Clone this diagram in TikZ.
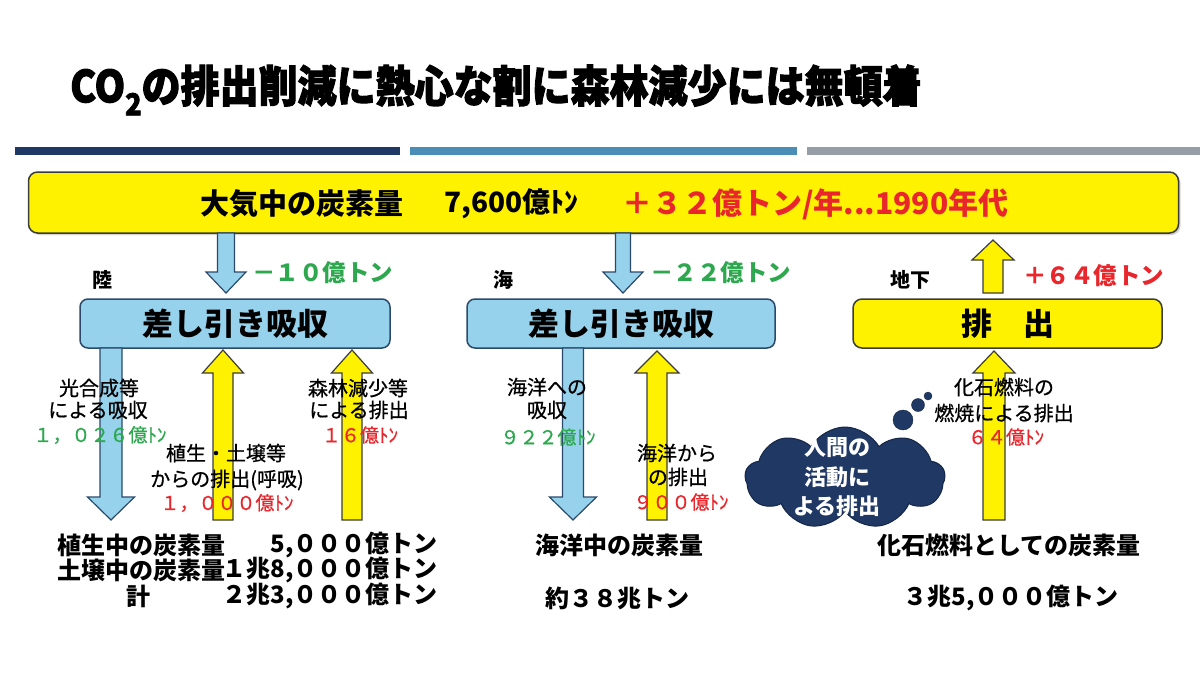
\documentclass[tikz,border=0pt]{standalone}
\usepackage{fontspec}
\setmainfont{Noto Sans CJK JP}
\newfontfamily\heavyfont[FakeBold=2.5]{Noto Sans CJK JP}
\newfontfamily\medfont[FakeBold=0.7]{Noto Sans CJK JP}
\usetikzlibrary{shapes.symbols,shadows}
\definecolor{navy}{HTML}{1F3864}
\definecolor{barblue}{HTML}{4A8DB7}
\definecolor{bargray}{HTML}{969DA6}
\definecolor{boxblue}{HTML}{96D2EB}
\definecolor{edgeblue}{HTML}{2B4A6B}
\definecolor{edgedark}{HTML}{3C3C3C}
\definecolor{ygreen}{HTML}{2EA84E}
\definecolor{yred}{HTML}{E8262B}
\newcommand\fsz[1]{\fontsize{#1}{#1}\selectfont}
% style, cx, tail y, tip y, shaft half width, head half width, signed head length
\newcommand\blockarrow[7]{%
  \draw[#1] ({#2-#5},#3) -- ({#2-#5},{#4-(#7)}) -- ({#2-#6},{#4-(#7)}) -- (#2,#4)
    -- ({#2+#6},{#4-(#7)}) -- ({#2+#5},{#4-(#7)}) -- ({#2+#5},#3) -- cycle;}
\tikzset{
  bluefill/.style={fill=boxblue, draw=edgeblue, line width=1.2pt, line join=miter},
  yelfill/.style={fill=yellow, draw=edgedark, line width=1.2pt, line join=miter},
  bluebox/.style={rectangle, rounded corners=8pt, fill=boxblue, draw=edgeblue, line width=1.5pt, inner sep=0pt},
  yelbox/.style={rectangle, rounded corners=9pt, fill=yellow, draw=edgedark, line width=1.5pt, inner sep=0pt},
  lbl/.style={inner sep=0pt, font=\medfont\fsz{20}},
  num/.style={inner sep=0pt, font=\medfont\fsz{19}},
  bot/.style={inner sep=0pt, font=\bfseries\fsz{24}},
  hdr/.style={inner sep=0pt, font=\bfseries\fsz{20}},
  dlt/.style={inner sep=0pt, anchor=west, font=\bfseries\fsz{23.5}},
}
\begin{document}
\begin{tikzpicture}[x=1pt,y=-1pt]
\useasboundingbox (0,0) rectangle (1200,675);
\fill[white] (0,0) rectangle (1200,675);
% title
\node[anchor=west, inner sep=0pt, font=\heavyfont\bfseries\fsz{39}] (title) at (70,90)
  {\scalebox{1}[1.12]{CO\raisebox{-0.3em}{\fsz{27}2}の排出削減に熱心な割に森林減少には無頓着}};
% bars
\fill[navy] (15,147) rectangle (400,155);
\fill[barblue] (410,147) rectangle (797,155);
\fill[bargray] (807,147) rectangle (1200,155);
% top box
\node[yelbox, drop shadow={shadow xshift=2pt, shadow yshift=-2pt, opacity=0.35}, minimum width=1150pt, minimum height=61pt] (atm) at (603.5,202.5) {};
\node[anchor=west, inner sep=0pt, font=\bfseries\fsz{29}] (atmL) at (200,204) {大気中の炭素量};
\node[anchor=west, inner sep=0pt, font=\bfseries\fsz{28}] (atmV) at (444,204) {7,600億ﾄﾝ};
\node[anchor=west, inner sep=0pt, font=\bfseries\fsz{30}, text=yred] (atmR) at (622,204) {＋３２億トン/年...1990年代};
% second-level boxes
\node[bluebox, minimum width=310pt, minimum height=49pt] (land) at (235,323.5) {};
\node[bluebox, minimum width=308pt, minimum height=49pt] (sea) at (621,323.5) {};
\node[yelbox, minimum width=309pt, minimum height=49pt] (emit) at (1007.5,323.5) {};
\node[inner sep=0pt, font=\bfseries\fsz{31}] (landT) at (land) {差し引き吸収};
\node[inner sep=0pt, font=\bfseries\fsz{31}] (seaT) at (sea) {差し引き吸収};
\node[inner sep=0pt, font=\bfseries\fsz{31}] (emitT) at (emit) {排　出};
% arrows between top box and second-level boxes
\blockarrow{bluefill}{226}{233}{293}{8.5}{20}{21}
\blockarrow{bluefill}{623}{233}{293}{7.5}{20}{21}
\blockarrow{yelfill}{993}{293}{240}{10}{21}{-20}
% labels of the upper arrows
\node[hdr] (riku) at (102,280) {陸};
\node[dlt, text=ygreen] (d1) at (252,273) {－１０億トン};
\node[hdr] (umi) at (503,280) {海};
\node[dlt, text=ygreen] (d2) at (650,273) {－２２億トン};
\node[hdr] (chika) at (910,280) {地下};
\node[dlt, text=yred] (d3) at (1023,276) {＋６４億トン};
% lower arrows
\blockarrow{bluefill}{111}{348}{520}{11}{23.5}{23}
\blockarrow{yelfill}{223}{520}{350}{10}{20.5}{-23}
\blockarrow{yelfill}{352}{520}{350}{10}{20.5}{-23}
\blockarrow{bluefill}{573}{348}{520}{10.5}{23.5}{23}
\blockarrow{yelfill}{657}{520}{351}{10}{22}{-22}
\blockarrow{yelfill}{994}{520}{351}{11}{21}{-22}
% cloud
\node[cloud, cloud puffs=9, cloud puff arc=120, aspect=2, fill=navy, draw=navy!70!black, line width=1pt,
      minimum width=200pt, minimum height=102pt] (cloud) at (845,478) {};
\node[circle, fill=navy, draw=navy!70!black, minimum size=20pt, inner sep=0pt] (b1) at (903,420) {};
\node[circle, fill=navy, draw=navy!70!black, minimum size=13pt, inner sep=0pt] (b2) at (918,405) {};
\node[circle, fill=navy, draw=navy!70!black, minimum size=8pt, inner sep=0pt] (b3) at (928,396) {};
\node[inner sep=0pt, font=\bfseries\fsz{22}, text=white] (c1) at (837,447) {人間の};
\node[inner sep=0pt, font=\bfseries\fsz{22}, text=white] (c2) at (837,477) {活動に};
\node[inner sep=0pt, font=\bfseries\fsz{22}, text=white] (c3) at (837,506) {よる排出};
% arrow labels, land
\node[lbl] (l1) at (99,388) {光合成等};
\node[lbl] (l2) at (98,410) {による吸収};
\node[num, text=ygreen] (l3) at (100,435) {１，０２６億ﾄﾝ};
\node[lbl] (l4) at (226,453) {植生・土壌等};
\node[lbl] (l5) at (227,480) {からの排出(呼吸)};
\node[num, text=yred] (l6) at (227,503) {１，０００億ﾄﾝ};
\node[lbl] (l7) at (358,388) {森林減少等};
\node[lbl] (l8) at (359,410) {による排出};
\node[num, text=yred] (l9) at (360,435) {１６億ﾄﾝ};
% arrow labels, sea
\node[lbl] (s1) at (547,387) {海洋への};
\node[lbl] (s2) at (547,410) {吸収};
\node[num, text=ygreen] (s3) at (548,437) {９２２億ﾄﾝ};
\node[lbl] (s4) at (677,453) {海洋から};
\node[lbl] (s5) at (678,477) {の排出};
\node[num, text=yred] (s6) at (681,502) {９００億ﾄﾝ};
% arrow labels, underground
\node[lbl] (f1) at (1004,387) {化石燃料の};
\node[lbl] (f2) at (1004,413) {燃焼による排出};
\node[num, text=yred] (f3) at (1006,437) {６４億ﾄﾝ};
% bottom stocks
\node[bot, anchor=west] (v1) at (57,545) {植生中の炭素量};
\node[bot, anchor=east] (v2) at (438,545) {5,０００億トン};
\node[bot, anchor=west] (v3) at (57,570) {土壌中の炭素量};
\node[bot, anchor=east] (v4) at (438,570) {１兆8,０００億トン};
\node[bot] (v5) at (138,596) {計};
\node[bot, anchor=east] (v6) at (438,596) {２兆3,０００億トン};
\node[bot] (o1) at (619,545) {海洋中の炭素量};
\node[bot] (o2) at (617,598) {約３８兆トン};
\node[bot] (g1) at (1009,545) {化石燃料としての炭素量};
\node[bot] (g2) at (1011,598) {３兆5,０００億トン};
\end{tikzpicture}
\end{document}
